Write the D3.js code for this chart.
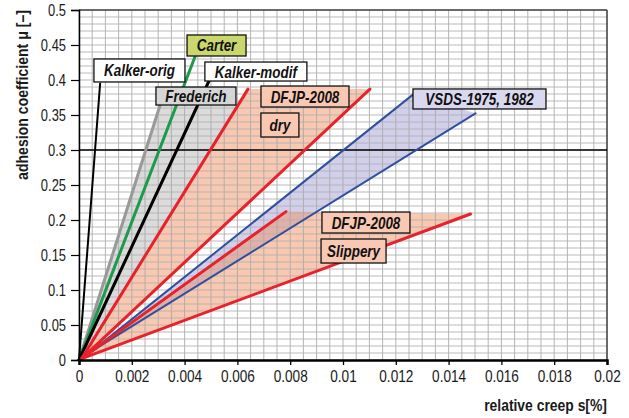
<!DOCTYPE html>
<html><head><meta charset="utf-8">
<script src="https://cdn.jsdelivr.net/npm/d3@7"></script>
<style>
html,body{margin:0;padding:0;background:#fff;}
svg{display:block;}
</style></head>
<body>
<svg id="chart" width="629" height="418"></svg>
<script>
// ---------- data ----------
const xTicks = [0, 0.002, 0.004, 0.006, 0.008, 0.01, 0.012, 0.014, 0.016, 0.018, 0.02];
const yTicks = [0, 0.05, 0.1, 0.15, 0.2, 0.25, 0.3, 0.35, 0.4, 0.45, 0.5];
const refLevel = 0.3;

const kalkerOrig  = [[0, 0], [0.0008, 0.395]];
const frederich   = [[0, 0], [0.00307, 0.364]];
const carter      = [[0, 0], [0.00440, 0.434]];
const kalkerModif = [[0, 0], [0.00494, 0.400]];
const dryUpper    = [[0.0001, 0.002], [0.0064, 0.387]];
const dryLower    = [[0.0001, 0.002], [0.01102, 0.387]];
const vsdsUpper   = [[0.0005, 0.013], [0.01266, 0.3795]];
const vsdsLower   = [[0.0005, 0.013], [0.01502, 0.3524]];
const slipUpper   = [[0.0001, 0.002], [0.00784, 0.212]];
const slipLower   = [[0.0001, 0.002], [0.01483, 0.2086]];

const frederichArea = [[0, 0], [0.00307, 0.364], [0.00600, 0.364]];
const dryArea       = [[0.0001, 0.002], [0.0064, 0.387], [0.01102, 0.387]];
const vsdsArea      = [[0.0005, 0.013], [0.01266, 0.3795], [0.01502, 0.3524]];
const slipArea      = [[0.0001, 0.002], [0.00784, 0.212], [0.01483, 0.2086]];

const labelTexts = ["Kalker-orig", "Carter", "Kalker-modif", "Frederich", "DFJP-2008", "dry", "VSDS-1975, 1982", "DFJP-2008", "Slippery"];
const labelAnchors = [[0.00229, 0.4136], [0.00521, 0.4493], [0.0067, 0.4121], [0.00443, 0.3771], [0.00856, 0.3764], [0.00761, 0.3357], [0.01517, 0.3729], [0.01087, 0.1964], [0.0104, 0.1557]];

// ---------- layout / style ----------
const W = 629, H = 418;
const m = {l: 79, r: 22, t: 10, b: 58};
const x = d3.scaleLinear().domain([0, 0.02]).range([m.l, W - m.r]);
const y = d3.scaleLinear().domain([0, 0.5]).range([H - m.b, m.t]);
const svg = d3.select("#chart");
const font = "'Liberation Sans', Arial, sans-serif";

function squeeze(sel, f) {
  sel.each(function () {
    const len = this.getComputedTextLength();
    d3.select(this).attr("textLength", len * f).attr("lengthAdjust", "spacingAndGlyphs");
  });
}

const labelStyle = [
  {w: 91, h: 23, fill: "#ffffff"},
  {w: 59, h: 21, fill: "#c9d76d"},
  {w: 102, h: 19, fill: "#ffffff"},
  {w: 80, h: 18, fill: "#d6d6d6"},
  {w: 88, h: 21, fill: "#f8c8b3"},
  {w: 38, h: 24, fill: "#f8c8b3"},
  {w: 133, h: 20, fill: "#d9d8ee"},
  {w: 88, h: 21, fill: "#f8c8b3"},
  {w: 65, h: 24, fill: "#f8c8b3"}
];

const line = d3.line().x(d => x(d[0])).y(d => y(d[1]));

// fills
const areas = [
  [frederichArea, "rgba(190,190,190,0.55)"],
  [dryArea, "rgba(244,145,100,0.5)"],
  [vsdsArea, "rgba(165,160,215,0.5)"],
  [slipArea, "rgba(244,145,100,0.5)"]
];
svg.append("g").selectAll("path").data(areas).join("path")
  .attr("d", d => line(d[0]) + "Z").attr("fill", d => d[1]);

// grid
const grid = svg.append("g");
d3.range(0, 41).forEach(i => {
  const v = i * 0.0005;
  grid.append("line").attr("x1", x(v)).attr("x2", x(v)).attr("y1", y(0)).attr("y2", y(0.5))
    .attr("stroke", "#a8a8a8").attr("stroke-width", 1).attr("opacity", 0.85);
});
d3.range(0, 51).forEach(i => {
  const v = i * 0.01;
  grid.append("line").attr("x1", x(0)).attr("x2", x(0.02)).attr("y1", y(v)).attr("y2", y(v))
    .attr("stroke", "#b0b0b0").attr("stroke-width", 1).attr("opacity", 0.85);
});

// border top/right
svg.append("line").attr("x1", x(0)).attr("x2", x(0.02)).attr("y1", y(0.5)).attr("y2", y(0.5))
  .attr("stroke", "#444").attr("stroke-width", 1.5);
svg.append("line").attr("x1", x(0.02)).attr("x2", x(0.02)).attr("y1", y(0.5)).attr("y2", y(0))
  .attr("stroke", "#444").attr("stroke-width", 1.5);

// reference line
svg.append("line").attr("x1", x(0)).attr("x2", x(0.02)).attr("y1", y(refLevel)).attr("y2", y(refLevel))
  .attr("stroke", "#000").attr("stroke-width", 1.6);

// series lines
const series = [
  [vsdsUpper, "#2f4f9f", 2],
  [vsdsLower, "#2f4f9f", 2],
  [frederich, "#999999", 3],
  [carter, "#1e9a4c", 3],
  [kalkerModif, "#000000", 3],
  [kalkerOrig, "#000000", 2],
  [dryUpper, "#e8222b", 3],
  [dryLower, "#e8222b", 3],
  [slipUpper, "#e8222b", 3],
  [slipLower, "#e8222b", 3]
];
svg.append("g").selectAll("path").data(series).join("path")
  .attr("d", d => line(d[0])).attr("fill", "none")
  .attr("stroke", d => d[1]).attr("stroke-width", d => d[2]).attr("stroke-linecap", "round");

// axes
const fmt = v => String(+v.toFixed(3));
const gx = svg.append("g").attr("transform", `translate(0,${y(0)})`)
  .call(d3.axisBottom(x).tickValues(xTicks).tickFormat(fmt).tickSize(5).tickPadding(5));
gx.select(".domain").attr("stroke", "#000").attr("stroke-width", 2.5);
gx.selectAll(".tick line").attr("stroke", "#000").attr("stroke-width", 1.3);
gx.selectAll("text").attr("font-family", font).attr("font-size", 17).attr("fill", "#1a1a1a");
squeeze(gx.selectAll("text"), 0.8);

const gy = svg.append("g").attr("transform", `translate(${x(0)},0)`)
  .call(d3.axisLeft(y).tickValues(yTicks).tickFormat(fmt).tickSize(8).tickPadding(5));
gy.select(".domain").attr("stroke", "#000").attr("stroke-width", 1.5);
gy.selectAll(".tick line").attr("stroke", "#000").attr("stroke-width", 1.2);
gy.selectAll("text").attr("font-family", font).attr("font-size", 17).attr("fill", "#1a1a1a");
squeeze(gy.selectAll("text"), 0.76);

// axis titles (horizontally condensed via transform)
const xt = svg.append("text")
  .attr("font-family", font).attr("font-weight", "bold").attr("font-size", 17).attr("fill", "#1a1a1a")
  .attr("text-anchor", "end").text("relative creep s[%]");
const xtLen = xt.node().getComputedTextLength();
xt.attr("transform", `translate(${x(0.02)},411) scale(${123 / xtLen},1)`);

const yt = svg.append("text")
  .attr("font-family", font).attr("font-weight", "bold").attr("font-size", 17).attr("fill", "#1a1a1a")
  .attr("text-anchor", "middle").text("adhesion coefficient μ [–]");
const ytLen = yt.node().getComputedTextLength();
yt.attr("transform", `translate(28,95) rotate(-90) scale(${170 / ytLen},1)`);

// label boxes
const lab = svg.append("g").selectAll("g").data(labelTexts).join("g")
  .attr("transform", (d, i) => `translate(${x(labelAnchors[i][0])},${y(labelAnchors[i][1])})`);
lab.append("rect")
  .attr("x", (d, i) => -labelStyle[i].w / 2).attr("y", (d, i) => -labelStyle[i].h / 2)
  .attr("width", (d, i) => labelStyle[i].w).attr("height", (d, i) => labelStyle[i].h)
  .attr("fill", (d, i) => labelStyle[i].fill).attr("stroke", "#111").attr("stroke-width", 1.3);
const lt = lab.append("text").attr("text-anchor", "middle").attr("y", 6)
  .attr("font-family", font).attr("font-weight", "bold").attr("font-style", "italic")
  .attr("font-size", 17).attr("fill", "#111")
  .text(d => d);
squeeze(lt, 0.79);
</script>
</body></html>
